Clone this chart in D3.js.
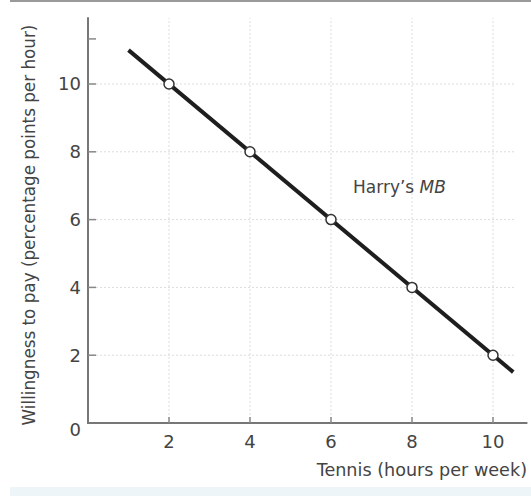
<!DOCTYPE html>
<html>
<head>
<meta charset="utf-8">
<script src="https://cdn.jsdelivr.net/npm/d3@7"></script>
<style>
  body { margin: 0; background: #fff; }
  text { font-family: "DejaVu Sans", sans-serif; fill: #444; }
</style>
</head>
<body>
<div class="chart"></div>
<script>
// tick values
const xTicks = [2, 4, 6, 8, 10];
const yTicks = [2, 4, 6, 8, 10];
const yMinorTicks = [11.33];

// Harry's marginal benefit line (ends) and marked points
const mbHours = [1, 10.5];
const mbWtp = [11, 1.5];
const pointHours = [2, 4, 6, 8, 10];
const pointWtp = [10, 8, 6, 4, 2];

const width = 531, height = 496;

const x = d3.scaleLinear().domain([0, 10]).range([88, 493]);
const y = d3.scaleLinear().domain([0, 10]).range([423, 84]);

const svg = d3.select(".chart").append("svg")
    .attr("width", width)
    .attr("height", height);

// top rule and bottom band of the scanned page
svg.append("line")
    .attr("x1", 10).attr("x2", width)
    .attr("y1", 1).attr("y2", 1)
    .attr("stroke", "#9a9a9a").attr("stroke-width", 2);
svg.append("rect")
    .attr("x", 10).attr("y", 487)
    .attr("width", width - 10).attr("height", 9)
    .attr("fill", "#eef5f9");

// grid lines
svg.selectAll(".vgrid")
    .data(xTicks)
    .enter()
    .append("line")
    .attr("class", "vgrid")
    .attr("x1", d => x(d)).attr("x2", d => x(d))
    .attr("y1", y(0)).attr("y2", y(11.95))
    .attr("stroke", "#dcdcdc").attr("stroke-width", 1)
    .attr("stroke-dasharray", "2,2");

svg.selectAll(".hgrid")
    .data(yTicks)
    .enter()
    .append("line")
    .attr("class", "hgrid")
    .attr("x1", x(0)).attr("x2", x(10.55))
    .attr("y1", d => y(d)).attr("y2", d => y(d))
    .attr("stroke", "#dcdcdc").attr("stroke-width", 1)
    .attr("stroke-dasharray", "2,2");

// axes
svg.append("line")
    .attr("x1", x(0)).attr("x2", x(0))
    .attr("y1", y(0)).attr("y2", y(11.97))
    .attr("stroke", "#777").attr("stroke-width", 2);
svg.append("line")
    .attr("x1", x(0) - 1).attr("x2", x(10.85))
    .attr("y1", y(0)).attr("y2", y(0))
    .attr("stroke", "#777").attr("stroke-width", 2);

// tick marks
svg.selectAll(".ytick")
    .data(yTicks.concat(yMinorTicks))
    .enter()
    .append("line")
    .attr("class", "ytick")
    .attr("x1", x(0)).attr("x2", x(0) + 8)
    .attr("y1", d => y(d)).attr("y2", d => y(d))
    .attr("stroke", "#888").attr("stroke-width", 1.5);

svg.selectAll(".xtick")
    .data(xTicks)
    .enter()
    .append("line")
    .attr("class", "xtick")
    .attr("x1", d => x(d)).attr("x2", d => x(d))
    .attr("y1", y(0)).attr("y2", y(0) - 6)
    .attr("stroke", "#888").attr("stroke-width", 1.5);

// tick labels
svg.selectAll(".xlabel")
    .data(xTicks)
    .enter()
    .append("text")
    .attr("class", "xlabel")
    .attr("x", d => x(d))
    .attr("y", y(0) + 25)
    .attr("text-anchor", "middle")
    .style("font-size", "18px")
    .text(d => d);

svg.selectAll(".ylabel")
    .data(yTicks)
    .enter()
    .append("text")
    .attr("class", "ylabel")
    .attr("x", x(0) - 7)
    .attr("y", d => y(d))
    .attr("dy", "0.36em")
    .attr("text-anchor", "end")
    .style("font-size", "18px")
    .text(d => d);

svg.append("text")
    .attr("x", x(0) - 7)
    .attr("y", y(0) + 7)
    .attr("dy", "0.36em")
    .attr("text-anchor", "end")
    .style("font-size", "18px")
    .text("0");

// MB line
const line = d3.line()
    .x(d => x(d[0]))
    .y(d => y(d[1]));

svg.append("path")
    .datum(d3.zip(mbHours, mbWtp))
    .attr("d", line)
    .attr("fill", "none")
    .attr("stroke", "#1e1e1e")
    .attr("stroke-width", 4);

svg.selectAll(".pt")
    .data(d3.zip(pointHours, pointWtp))
    .enter()
    .append("circle")
    .attr("class", "pt")
    .attr("cx", d => x(d[0]))
    .attr("cy", d => y(d[1]))
    .attr("r", 5)
    .attr("fill", "#fff")
    .attr("stroke", "#333")
    .attr("stroke-width", 1.5);

// curve label
const mbLabel = svg.append("text")
    .attr("x", 353)
    .attr("y", 193)
    .style("font-size", "17px");
mbLabel.append("tspan").text("Harry\u2019s ");
mbLabel.append("tspan").style("font-style", "italic").text("MB");

// axis titles
svg.append("text")
    .attr("x", 527)
    .attr("y", 476)
    .attr("text-anchor", "end")
    .style("font-size", "17.6px")
    .text("Tennis (hours per week)");

svg.append("text")
    .attr("transform", "translate(35,225) rotate(-90)")
    .attr("text-anchor", "middle")
    .style("font-size", "16.8px")
    .text("Willingness to pay (percentage points per hour)");
</script>
</body>
</html>
